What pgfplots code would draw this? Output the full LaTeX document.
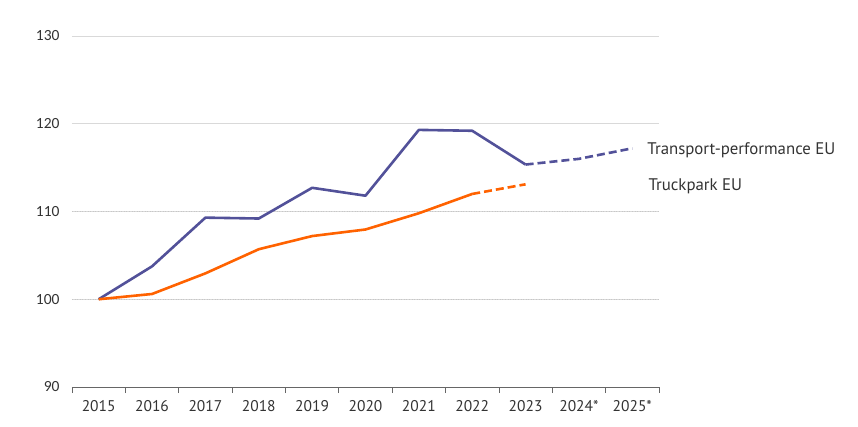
\documentclass[border=0pt]{standalone}
\usepackage{pgfplots}
\pgfplotsset{compat=1.18}
\usepackage{fontspec}
\setmainfont{PT Sans}
\newfontfamily\yfont{Carlito}
\definecolor{ingpurple}{HTML}{525199}
\definecolor{ingorange}{HTML}{FF6200}
\definecolor{txt}{HTML}{333333}
\begin{document}
\begin{tikzpicture}
\begin{axis}[
  scale only axis,
  width=587bp, height=351bp,
  xmin=-0.5, xmax=10.5,
  ymin=90, ymax=130,
  axis lines*=left,
  y axis line style={draw=none},
  x axis line style={draw=black!60, line width=0.8bp},
  xtick={0,...,10},
  xticklabels={2015,2016,2017,2018,2019,2020,2021,2022,2023,2024*,2025*},
  major x tick style={draw=none},
  minor xtick={-0.5,0.5,1.5,2.5,3.5,4.5,5.5,6.5,7.5,8.5,9.5,10.5},
  minor x tick style={draw=black!60, line width=0.8bp},
  minor tick length=6bp,
  xtick align=outside,
  ytick={90,100,110,120,130},
  extra y ticks={100,110},
  extra y tick labels={},
  extra y tick style={grid=major, major grid style={draw=black!22, line width=0.6bp, dotted}},
  ymajorgrids,
  major grid style={draw=black!15, line width=0.8bp},
  major y tick style={draw=none},
  yticklabel style={font=\yfont\fontsize{15.5bp}{18bp}\selectfont, text=txt, xshift=-9bp},
  xticklabel style={font=\fontsize{15.5bp}{18bp}\selectfont, text=txt, yshift=-6bp},
  /pgf/number format/assume math mode=true,
  clip=false,
]
\coordinate (O) at (rel axis cs:0,0);
% Transport-performance EU
\addplot[ingpurple, line width=2.6bp, line join=round] coordinates {
 (0,100) (1,103.75) (2,109.3) (3,109.2) (4,112.7) (5,111.8) (6,119.3) (7,119.2) (8,115.35)
};
\addplot[ingpurple, line width=2.6bp, dash pattern=on 8bp off 4bp, line join=round] coordinates {
 (8,115.35) (9,116.0) (10,117.2)
};
% Truckpark EU
\addplot[ingorange, line width=2.6bp, line join=round] coordinates {
 (0,100) (1,100.6) (2,102.95) (3,105.7) (4,107.2) (5,107.95) (6,109.8) (7,112.0)
};
\addplot[ingorange, line width=2.6bp, dash pattern=on 8bp off 4bp] coordinates {
 (7,112.0) (8,113.1)
};
\node[anchor=west, text=txt, font=\fontsize{16.8bp}{19bp}\selectfont, inner sep=0pt] at (axis cs:10.28,117.0) {Transport-performance EU};
\node[anchor=west, text=txt, font=\fontsize{16.8bp}{19bp}\selectfont, inner sep=0pt] at (axis cs:10.30,112.9) {Truckpark EU};
\end{axis}
\pgfresetboundingbox
\path[use as bounding box] (O) ++(-72bp,-40bp) rectangle ++(858bp,427bp);
\end{tikzpicture}
\end{document}
